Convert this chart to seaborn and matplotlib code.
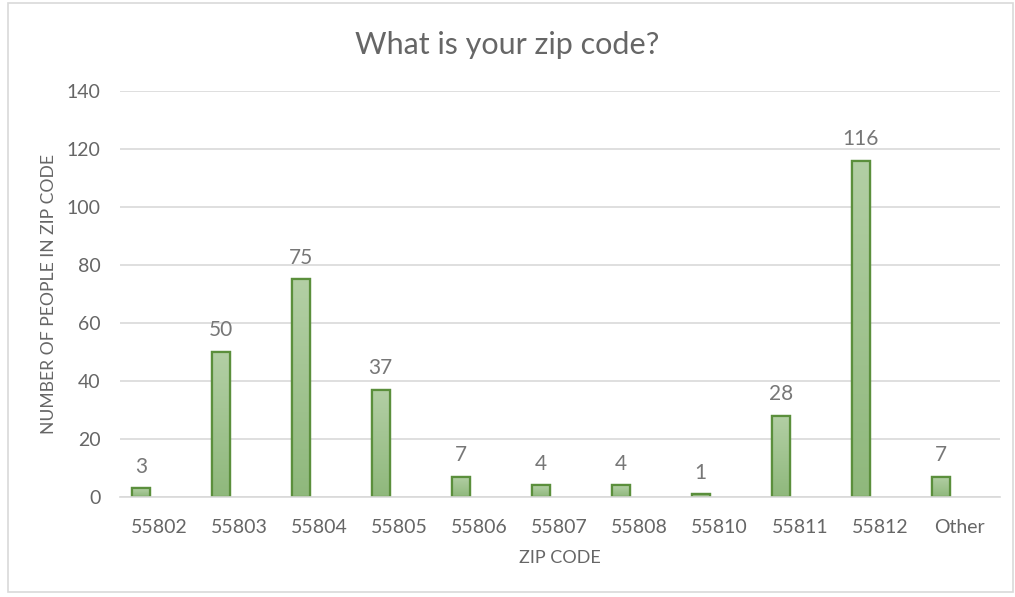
import matplotlib
matplotlib.use("Agg")
import matplotlib.pyplot as plt
import matplotlib.patches as mpatches
import numpy as np
import pandas as pd
import seaborn as sns

zip_codes = ["55802", "55803", "55804", "55805", "55806", "55807",
             "55808", "55810", "55811", "55812", "Other"]
people = [3, 50, 75, 37, 7, 4, 4, 1, 28, 116, 7]

df = pd.DataFrame({"zip": zip_codes, "people": people})

sns.set_theme(style="white")
plt.rcParams["font.family"] = ["Lato", "DejaVu Sans"]

text_gray = "#666666"
edge_green = "#5b8f3c"

fig = plt.figure(figsize=(10.15, 5.97), dpi=100)
ax = fig.add_axes([0.118, 0.1675, 0.867, 0.6801])

sns.barplot(data=df, x="zip", y="people", color="#a3c290", width=0.225,
            edgecolor=edge_green, linewidth=1.6, ax=ax)

# gradient fill inside each bar
grad = np.linspace(0, 1, 256).reshape(-1, 1)
cmap = matplotlib.colors.LinearSegmentedColormap.from_list(
    "g", ["#8fb87c", "#b3cfa5"])
for p in ax.patches:
    x0, y0 = p.get_x(), p.get_y()
    w, h = p.get_width(), p.get_height()
    im = ax.imshow(grad, extent=[x0, x0 + w, y0, y0 + h], origin="lower",
                   cmap=cmap, aspect="auto", zorder=p.get_zorder() + 0.1)
    im.set_clip_path(p)
    p.set_facecolor("none")
    border = mpatches.Rectangle((x0, y0), w, h, fill=False,
                                edgecolor=edge_green, linewidth=1.6,
                                zorder=p.get_zorder() + 0.2)
    ax.add_patch(border)

for i, v in enumerate(people):
    ax.text(i, v + 4, str(v), ha="center", va="bottom", fontsize=15,
            color="#777777")

ax.set_xlim(-0.2625, len(zip_codes) - 0.2625)
ax.set_ylim(0, 140)
ax.set_xticks(np.arange(len(zip_codes)) + 0.2375)
ax.set_xticklabels(zip_codes)
ax.set_yticks(range(0, 141, 20))
ax.tick_params(axis="both", length=0, labelsize=14, labelcolor=text_gray)
ax.tick_params(axis="x", pad=16)
ax.tick_params(axis="y", pad=14)

ax.yaxis.grid(True, color="#d9d9d9", linewidth=1.2)
ax.set_axisbelow(True)
for side in ["top", "right", "left"]:
    ax.spines[side].set_visible(False)
ax.spines["bottom"].set_color("#d9d9d9")
ax.spines["bottom"].set_linewidth(1.2)

ax.set_xlabel("ZIP CODE", fontsize=13, color=text_gray, labelpad=10)
ax.set_ylabel("NUMBER OF PEOPLE IN ZIP CODE", fontsize=12.6,
              color=text_gray, labelpad=7)
fig.suptitle("What is your zip code?", fontsize=22, color=text_gray,
             y=0.948)

fig.patches.append(mpatches.Rectangle(
    (0.008, 0.008), 0.99, 0.987, transform=fig.transFigure, fill=False,
    edgecolor="#d9d9d9", linewidth=1.2))

fig.savefig("out.png", dpi=100, facecolor="white")
